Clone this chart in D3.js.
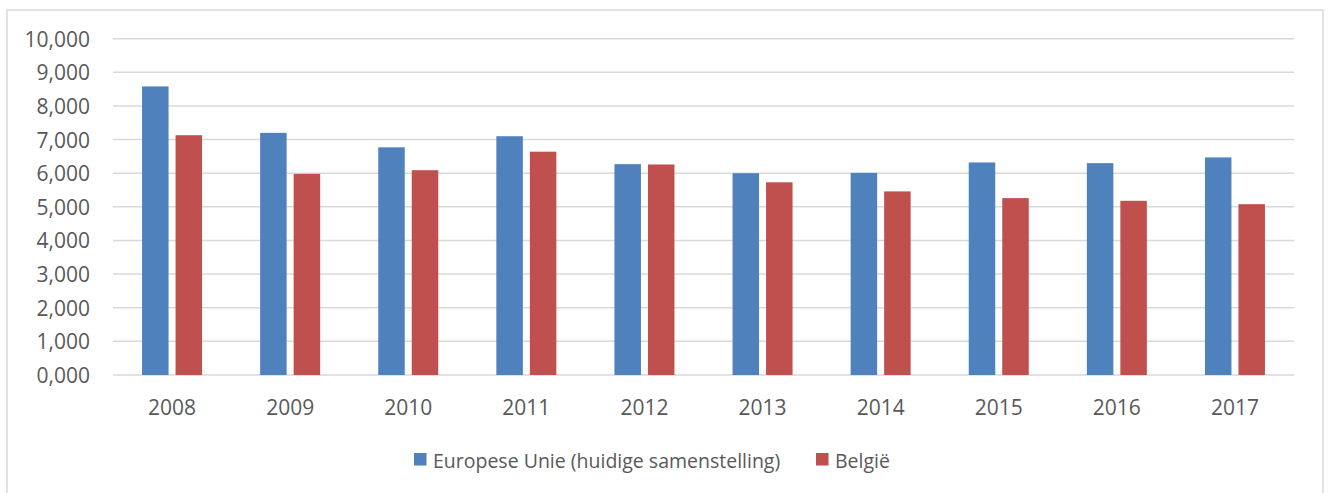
<!DOCTYPE html>
<html>
<head>
<meta charset="utf-8">
<script src="https://cdn.jsdelivr.net/npm/d3@7"></script>
<style>
  html, body { margin: 0; padding: 0; background: #fff; }
  svg { display: block; }
  text { font-family: "Open Sans", sans-serif; fill: #595959; }
</style>
</head>
<body>
<svg id="chart" width="1328" height="493"></svg>
<script>
const years = ["2008","2009","2010","2011","2012","2013","2014","2015","2016","2017"];
const euValues = [8.58, 7.20, 6.77, 7.10, 6.27, 6.00, 6.01, 6.32, 6.30, 6.47];
const beValues = [7.13, 5.98, 6.09, 6.64, 6.26, 5.73, 5.46, 5.26, 5.18, 5.08];
const seriesNames = ["Europese Unie (huidige samenstelling)", "België"];
const seriesColors = ["#4f81bd", "#c0504d"];
const yTicks = [0,1,2,3,4,5,6,7,8,9,10];

const svg = d3.select("#chart");

// outer border
svg.append("rect").attr("x", 7).attr("y", 10).attr("width", 1316).attr("height", 500)
  .attr("fill", "#fff").attr("stroke", "#d9d9d9").attr("stroke-width", 1.5);

const x0 = d3.scaleBand().domain(years).range([113, 1294]).paddingInner(0).paddingOuter(0);
const y = d3.scaleLinear().domain([0, 10]).range([375, 38.7]);

const barW = 26.5, gap = 7;
const x1 = d3.scaleOrdinal().domain([0, 1]).range([-(gap/2 + barW), gap/2]);

// gridlines
svg.append("g").selectAll("line").data(yTicks).join("line")
  .attr("x1", 113).attr("x2", 1294)
  .attr("y1", d => y(d)).attr("y2", d => y(d))
  .attr("stroke", "#d9d9d9").attr("stroke-width", 1.5);

// y labels
const fmt = d => d3.format(".3f")(d).replace(".", ",");
svg.append("g").selectAll("text").data(yTicks).join("text")
  .attr("x", 90).attr("y", d => y(d) + 8)
  .attr("text-anchor", "end").attr("font-size", 21)
  .text(fmt);

// bars
const data = years.map((yr, i) => ({ yr, vals: [euValues[i], beValues[i]] }));
const groups = svg.append("g").selectAll("g").data(data).join("g")
  .attr("transform", d => `translate(${x0(d.yr) + x0.bandwidth()/2},0)`);
groups.selectAll("rect").data(d => d.vals.map((v, k) => ({ v, k }))).join("rect")
  .attr("x", d => x1(d.k)).attr("width", barW)
  .attr("y", d => y(d.v)).attr("height", d => y(0) - y(d.v))
  .attr("fill", d => seriesColors[d.k]);

// x labels
svg.append("g").selectAll("text").data(years).join("text")
  .attr("x", d => x0(d) + x0.bandwidth()/2).attr("y", 414.5)
  .attr("text-anchor", "middle").attr("font-size", 21)
  .text(d => d);

// legend
const leg = svg.append("g");
const legItems = [{ x: 414, name: seriesNames[0], c: seriesColors[0] }, { x: 816, name: seriesNames[1], c: seriesColors[1] }];
legItems.forEach(it => {
  leg.append("rect").attr("x", it.x).attr("y", 453).attr("width", 12.5).attr("height", 12.5).attr("fill", it.c);
  leg.append("text").attr("x", it.x + 19).attr("y", 467.5).attr("font-size", 19.5).text(it.name);
});
</script>
</body>
</html>
